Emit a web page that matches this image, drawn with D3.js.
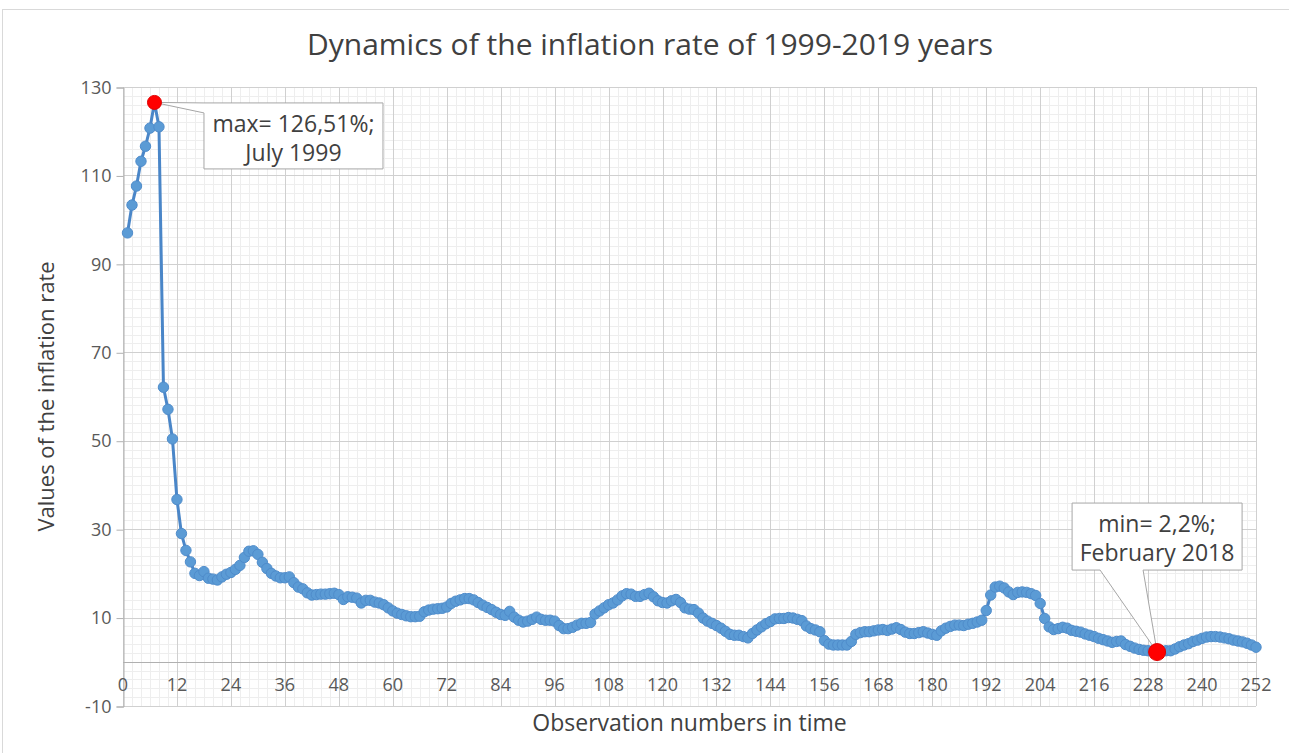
<!DOCTYPE html>
<html>
<head>
<meta charset="utf-8">
<script src="https://cdn.jsdelivr.net/npm/d3@7/dist/d3.min.js"></script>
<style>
body{margin:0;background:#fff;}
text{font-family:"Open Sans",sans-serif;}
</style>
</head>
<body>
<script>
(function(){

//chart texts
var chartTitle = "Dynamics of the inflation rate of 1999-2019 years";
var xTitle = "Observation numbers in time";
var yTitle = "Values of the inflation rate";

//tick labels
var xTicks = [0, 12, 24, 36, 48, 60, 72, 84, 96, 108, 120, 132, 144, 156, 168, 180, 192, 204, 216, 228, 240, 252];
var yTicks = [-10, 10, 30, 50, 70, 90, 110, 130];

//monthly inflation rate, observations 1..252 (Jan 1999 - Dec 2019)
var inflation = [
    97.0, 103.3, 107.6, 113.2, 116.6, 120.7, 126.51, 121.0, 62.1, 57.1,
    50.4, 36.7, 29.0, 25.2, 22.6, 20.0, 19.5, 20.4, 18.9, 18.7,
    18.5, 19.2, 19.8, 20.2, 20.9, 21.8, 23.6, 25.0, 25.1, 24.3,
    22.5, 21.1, 20.0, 19.4, 19.0, 19.0, 19.2, 17.9, 16.9, 16.5,
    15.6, 15.1, 15.2, 15.3, 15.3, 15.4, 15.5, 15.2, 14.1, 14.7,
    14.6, 14.4, 13.3, 13.9, 13.9, 13.5, 13.3, 12.9, 12.2, 11.5,
    11.0, 10.7, 10.4, 10.2, 10.2, 10.3, 11.3, 11.7, 11.9, 12.0,
    12.1, 12.4, 13.2, 13.7, 14.0, 14.3, 14.3, 14.0, 13.4, 12.8,
    12.3, 11.8, 11.2, 10.7, 10.5, 11.4, 10.1, 9.4, 9.0, 9.2,
    9.6, 10.1, 9.6, 9.4, 9.4, 9.2, 8.2, 7.5, 7.5, 7.8,
    8.3, 8.7, 8.7, 8.9, 10.8, 11.5, 12.2, 12.9, 13.3, 14.0,
    14.9, 15.4, 15.3, 14.8, 14.8, 15.2, 15.5, 14.7, 13.8, 13.4,
    13.3, 13.8, 14.1, 13.4, 12.2, 11.9, 11.8, 11.0, 9.9, 9.2,
    8.7, 8.2, 7.6, 6.9, 6.2, 6.0, 6.0, 5.7, 5.4, 6.4,
    7.2, 7.9, 8.6, 9.1, 9.7, 9.8, 9.8, 10.0, 9.9, 9.6,
    9.3, 8.1, 7.5, 7.2, 6.8, 4.8, 4.0, 3.8, 3.8, 3.8,
    3.8, 4.6, 6.2, 6.6, 6.8, 6.8, 7.0, 7.2, 7.3, 7.1,
    7.4, 7.7, 7.3, 6.7, 6.4, 6.4, 6.6, 6.8, 6.5, 6.2,
    6.0, 7.0, 7.6, 8.0, 8.3, 8.3, 8.2, 8.5, 8.7, 9.0,
    9.4, 11.6, 15.1, 16.9, 17.1, 16.7, 15.8, 15.2, 15.7, 15.8,
    15.7, 15.4, 15.0, 13.2, 9.8, 7.9, 7.3, 7.5, 7.8, 7.6,
    7.1, 6.9, 6.7, 6.3, 6.0, 5.7, 5.3, 5.0, 4.7, 4.4,
    4.6, 4.7, 3.9, 3.5, 3.1, 2.8, 2.6, 2.5, 2.4, 2.2,
    2.4, 2.5, 2.5, 2.9, 3.4, 3.8, 4.1, 4.6, 4.9, 5.3,
    5.6, 5.7, 5.7, 5.6, 5.4, 5.2, 4.9, 4.7, 4.5, 4.2,
    3.8, 3.3
];

//extreme points and their labels
var maxObs = 7, minObs = 230;
var maxLabel = ["max= 126,51%;", "July 1999"];
var minLabel = ["min= 2,2%;", "February 2018"];

window.onload = setChart();

function setChart(){
    var width = 1289,
        height = 753;

    var svg = d3.select("body")
        .append("svg")
        .attr("width", width)
        .attr("height", height);

    //chart frame border
    svg.append("rect")
        .attr("x", 2.5)
        .attr("y", 9.5)
        .attr("width", width + 10)
        .attr("height", height + 10)
        .attr("fill", "#fff")
        .attr("stroke", "#d9d9d9");

    var x = d3.scaleLinear().domain([0, 252]).range([123, 1256]);
    var y = d3.scaleLinear().domain([-10, 130]).range([706, 87]);

    //minor gridlines every 2 units
    var grid = svg.append("g");
    grid.selectAll(".minorX")
        .data(d3.range(0, 253, 2))
        .enter()
        .append("line")
        .attr("x1", function(d){ return Math.round(x(d)) + 0.5; })
        .attr("x2", function(d){ return Math.round(x(d)) + 0.5; })
        .attr("y1", y(130))
        .attr("y2", y(-10))
        .attr("stroke", "#eeeeee");
    grid.selectAll(".minorY")
        .data(d3.range(-10, 131, 2))
        .enter()
        .append("line")
        .attr("y1", function(d){ return Math.round(y(d)) + 0.5; })
        .attr("y2", function(d){ return Math.round(y(d)) + 0.5; })
        .attr("x1", x(0))
        .attr("x2", x(252))
        .attr("stroke", "#eeeeee");

    //major gridlines
    grid.selectAll(".majorX")
        .data(xTicks)
        .enter()
        .append("line")
        .attr("x1", function(d){ return Math.round(x(d)) + 0.5; })
        .attr("x2", function(d){ return Math.round(x(d)) + 0.5; })
        .attr("y1", y(130))
        .attr("y2", y(-10))
        .attr("stroke", "#d0d0d0");
    grid.selectAll(".majorY")
        .data(yTicks)
        .enter()
        .append("line")
        .attr("y1", function(d){ return Math.round(y(d)) + 0.5; })
        .attr("y2", function(d){ return Math.round(y(d)) + 0.5; })
        .attr("x1", x(0))
        .attr("x2", x(252))
        .attr("stroke", "#d0d0d0");

    //zero line (horizontal axis)
    svg.append("line")
        .attr("x1", x(0))
        .attr("x2", x(252))
        .attr("y1", Math.round(y(0)) + 0.5)
        .attr("y2", Math.round(y(0)) + 0.5)
        .attr("stroke", "#b0b0b0");

    //vertical axis with ticks
    var yAxis = d3.axisLeft(y)
        .tickValues(yTicks)
        .tickFormat(function(d){ return String(d); })
        .tickSize(7)
        .tickPadding(5);
    var yAxisG = svg.append("g")
        .attr("transform", "translate(" + (Math.round(x(0)) + 0.5) + ",0.5)")
        .call(yAxis);
    yAxisG.select(".domain").attr("stroke", "#b0b0b0");
    yAxisG.selectAll(".tick line").attr("stroke", "#b0b0b0");
    yAxisG.selectAll(".tick text")
        .attr("fill", "#595959")
        .style("font-size", "18px")
        .style("font-family", "'Open Sans', sans-serif");

    //horizontal tick labels sit between zero line and bottom
    svg.selectAll(".xLabel")
        .data(xTicks)
        .enter()
        .append("text")
        .attr("x", function(d){ return x(d); })
        .attr("y", y(-5) + 7)
        .attr("text-anchor", "middle")
        .attr("fill", "#595959")
        .style("font-size", "18px")
        .text(function(d){ return d; });

    //data line
    var line = d3.line()
        .x(function(d, i){ return x(i + 1); })
        .y(function(d){ return y(d); });

    svg.append("path")
        .datum(inflation)
        .attr("d", line)
        .attr("fill", "none")
        .attr("stroke", "#4a86c8")
        .attr("stroke-width", 3)
        .attr("stroke-linejoin", "round");

    svg.selectAll(".marker")
        .data(inflation)
        .enter()
        .append("circle")
        .attr("cx", function(d, i){ return x(i + 1); })
        .attr("cy", function(d){ return y(d); })
        .attr("r", 5.2)
        .attr("fill", "#5b9bd5")
        .attr("stroke", "#4f8ccb")
        .attr("stroke-width", 1);

    //callouts
    var maxPx = x(maxObs), maxPy = y(inflation[maxObs - 1]);
    var minPx = x(minObs), minPy = y(inflation[minObs - 1]);

    var mb = {l: maxPx + 49.5, t: maxPy + 0.5, w: 179, h: 66};
    svg.append("path")
        .attr("d", "M" + mb.l + "," + mb.t + "H" + (mb.l + mb.w) + "V" + (mb.t + mb.h) +
            "H" + mb.l + "V" + (mb.t + 10) + "L" + maxPx + "," + maxPy + "Z")
        .attr("fill", "#fff")
        .attr("stroke", "#a6a6a6")
        .attr("stroke-width", 1);
    drawLines(svg, maxLabel, mb);

    var nb = {l: minPx - 85, t: minPy - 149, w: 170, h: 67};
    svg.append("path")
        .attr("d", "M" + nb.l + "," + nb.t + "H" + (nb.l + nb.w) + "V" + (nb.t + nb.h) +
            "H" + (minPx - 14) + "L" + minPx + "," + minPy + "L" + (minPx - 57) + "," + (nb.t + nb.h) +
            "H" + nb.l + "Z")
        .attr("fill", "#fff")
        .attr("stroke", "#a6a6a6")
        .attr("stroke-width", 1);
    drawLines(svg, minLabel, nb);

    //red extreme markers
    svg.append("circle")
        .attr("cx", maxPx)
        .attr("cy", maxPy)
        .attr("r", 7)
        .attr("fill", "#ff0000")
        .attr("stroke", "#e00000");
    svg.append("circle")
        .attr("cx", minPx)
        .attr("cy", minPy)
        .attr("r", 8.5)
        .attr("fill", "#ff0000")
        .attr("stroke", "#e00000");

    //titles
    svg.append("text")
        .attr("x", 650)
        .attr("y", 55)
        .attr("text-anchor", "middle")
        .attr("fill", "#404040")
        .style("font-size", "30px")
        .text(chartTitle);

    svg.append("text")
        .attr("x", (x(0) + x(252)) / 2)
        .attr("y", 731)
        .attr("text-anchor", "middle")
        .attr("fill", "#404040")
        .style("font-size", "23px")
        .text(xTitle);

    svg.append("text")
        .attr("transform", "translate(54," + ((y(130) + y(-10)) / 2) + ") rotate(-90)")
        .attr("text-anchor", "middle")
        .attr("fill", "#404040")
        .style("font-size", "22px")
        .text(yTitle);
};

function drawLines(svg, lines, b){
    svg.selectAll(null)
        .data(lines)
        .enter()
        .append("text")
        .attr("x", b.l + b.w / 2)
        .attr("y", function(d, i){ return b.t + 29 + i * 29; })
        .attr("text-anchor", "middle")
        .attr("fill", "#404040")
        .style("font-size", "23px")
        .text(function(d){ return d; });
};

})();
</script>
</body>
</html>
